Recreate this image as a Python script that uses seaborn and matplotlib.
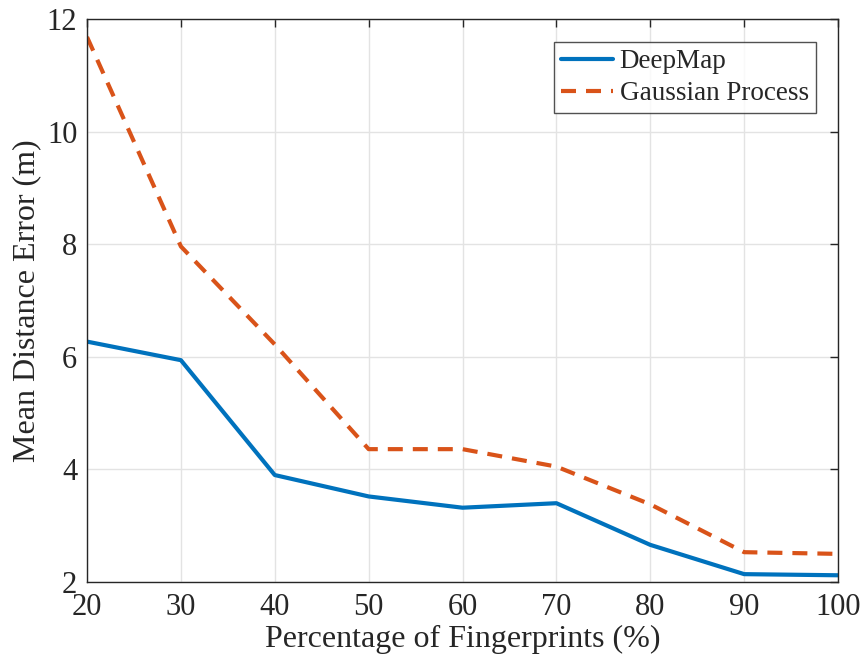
import numpy as np
import pandas as pd
import seaborn as sns
import matplotlib
matplotlib.use("Agg")
import matplotlib.pyplot as plt

# Fingerprint percentage and mean localization error per method
percent = [20, 30, 40, 50, 60, 70, 80, 90, 100]
deepmap = [6.27, 5.94, 3.90, 3.52, 3.32, 3.40, 2.66, 2.14, 2.12]
gaussian_process = [11.68, 7.96, 6.22, 4.36, 4.36, 4.05, 3.38, 2.53, 2.50]

df = pd.DataFrame({
    "percent": percent * 2,
    "error": deepmap + gaussian_process,
    "method": ["DeepMap"] * len(percent) + ["Gaussian Process"] * len(percent),
})

sns.set_style("whitegrid")
plt.rcParams["font.family"] = ["Liberation Serif", "DejaVu Serif"]

fig = plt.figure(figsize=(8.66, 6.68), dpi=100)
ax = fig.add_axes([0.1005, 0.1287, 0.8672, 0.8429])

sns.lineplot(
    data=df, x="percent", y="error", hue="method", style="method",
    palette={"DeepMap": "#0072BD", "Gaussian Process": "#D95319"},
    dashes={"DeepMap": "", "Gaussian Process": (3.6, 2.4)},
    linewidth=3, ax=ax, legend=True,
)

ax.set_xlim(20, 100)
ax.set_ylim(2, 12)
ax.set_xticks(np.arange(20, 101, 10))
ax.set_yticks(np.arange(2, 13, 2))
ax.grid(True, color="#e3e3e3", linewidth=1.0)
for side in ["left", "right", "top", "bottom"]:
    ax.spines[side].set_visible(True)
    ax.spines[side].set_color("#262626")
    ax.spines[side].set_linewidth(1.0)
ax.tick_params(axis="both", which="both", direction="in", length=6, width=1.0,
               color="#262626", top=True, right=True, labelsize=22,
               labelcolor="#262626")
ax.tick_params(axis="x", pad=8)
ax.tick_params(axis="y", pad=7)

ax.set_xlabel("Percentage of Fingerprints (%)", fontsize=23, color="#262626", labelpad=2)
ax.set_ylabel("Mean Distance Error (m)", fontsize=23, color="#262626", labelpad=4)

leg = ax.legend(loc="upper right", bbox_to_anchor=(0.9707, 0.959), fontsize=19.5,
                frameon=True, fancybox=False, edgecolor="#262626",
                handlelength=1.9, borderpad=0.27, labelspacing=0.25,
                handletextpad=0.25, borderaxespad=0.0)
leg.get_frame().set_linewidth(1.0)
leg.set_title(None)

fig.savefig("out.png", dpi=100)
